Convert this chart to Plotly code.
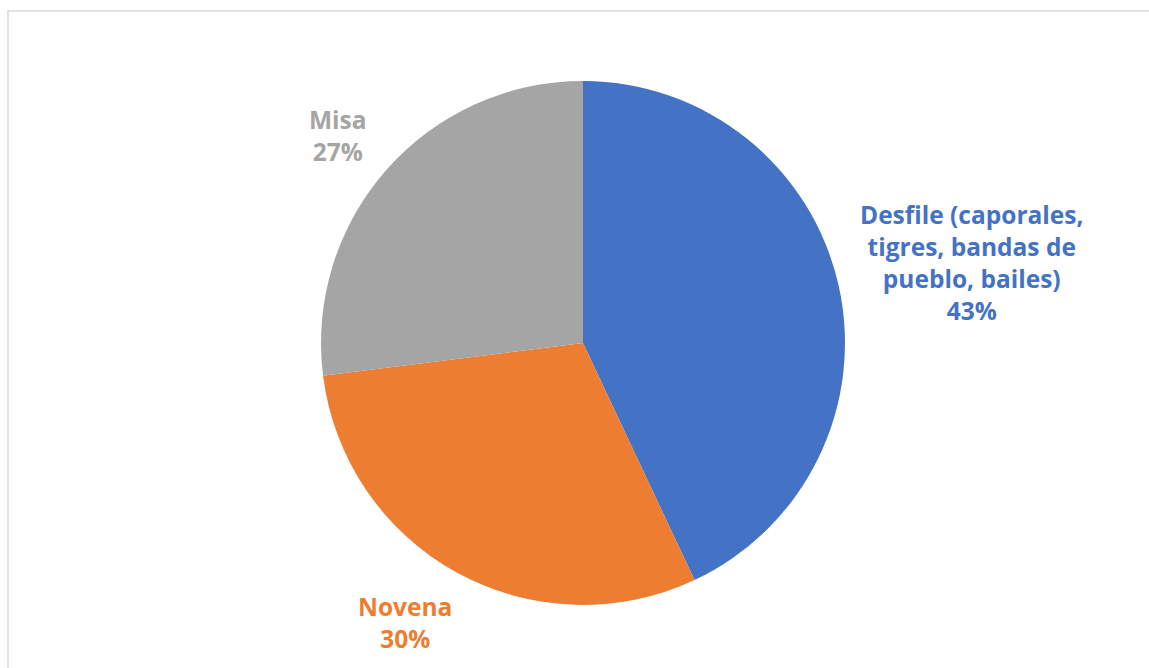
import plotly.graph_objects as go

# Distribution of festival activities
categories = ["Desfile (caporales, tigres, bandas de pueblo, bailes)", "Novena", "Misa"]
label_lines = ["Desfile (caporales,<br>tigres, bandas de<br>pueblo, bailes)", "Novena", "Misa"]
values = [43, 30, 27]
colors = ["#4472C4", "#ED7D31", "#A5A5A5"]

W, H = 1149, 668
cx, cy, r = 583, 343, 262

fig = go.Figure()
fig.add_trace(go.Pie(
    labels=categories,
    values=values,
    sort=False,
    direction="clockwise",
    rotation=0,
    marker=dict(colors=colors, line=dict(width=0)),
    textinfo="none",
    hoverinfo="label+percent",
    showlegend=False,
    domain=dict(x=[(cx - r) / W, (cx + r) / W], y=[1 - (cy + r) / H, 1 - (cy - r) / H]),
))

total = sum(values)
pct = [round(v * 100 / total) for v in values]

# label anchor positions (pixels) for each slice
label_pos = [(971, 262), (405, 622), (338, 135)]
annotations = []
for lines, p, col, (lx, ly) in zip(label_lines, pct, colors, label_pos):
    annotations.append(dict(
        x=lx / W, y=1 - ly / H, xref="paper", yref="paper",
        text=f"{lines}<br>{p}%", showarrow=False,
        font=dict(family="Open Sans", size=24.5, color=col, weight="bold"),
        align="center", xanchor="center", yanchor="middle",
    ))

fig.update_layout(
    width=W, height=H,
    margin=dict(l=0, r=0, t=0, b=0),
    paper_bgcolor="white",
    plot_bgcolor="white",
    annotations=annotations,
    shapes=[dict(type="rect", xref="paper", yref="paper",
                 x0=8 / W, x1=1.01, y0=-0.01, y1=1 - 11 / H,
                 line=dict(color="#D9D9D9", width=1.5), fillcolor="rgba(0,0,0,0)")],
)

fig.write_html("out.html")
